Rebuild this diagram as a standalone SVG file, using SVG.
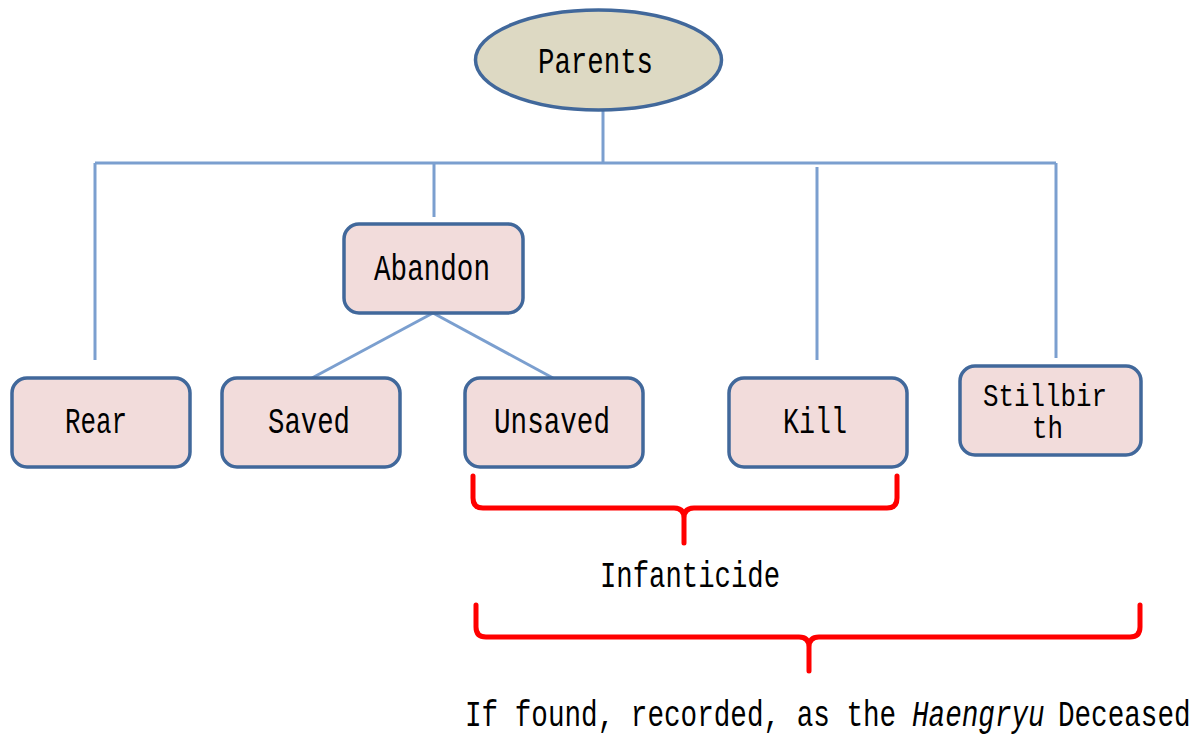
<svg xmlns="http://www.w3.org/2000/svg" width="1197" height="736" viewBox="0 0 1197 736">
<style>
.box{fill:#f2dcdb;stroke:#41689b;stroke-width:3.5}
.ell{fill:#ddd9c3;stroke:#41689b;stroke-width:3.5}
.con{fill:none;stroke:#7b9fcf;stroke-width:3}
.br{fill:none;stroke:#ff0000;stroke-width:5;stroke-linecap:round;stroke-linejoin:round}
text{font-family:"Liberation Mono","DejaVu Sans Mono",monospace;font-size:36px;fill:#000}
.sm{font-size:31px}
</style>
<rect width="1197" height="736" fill="#fff"/>
<g id="connectors">
<line class="con" x1="603" y1="110" x2="603" y2="163"/>
<line class="con" x1="95" y1="163" x2="1056" y2="163"/>
<line class="con" x1="95" y1="163" x2="95" y2="360"/>
<line class="con" x1="434" y1="163" x2="434" y2="217"/>
<line class="con" x1="817" y1="167" x2="817" y2="360"/>
<line class="con" x1="1056" y1="163" x2="1056" y2="358"/>
<line class="con" x1="433" y1="313" x2="312" y2="378"/>
<line class="con" x1="433" y1="313" x2="553" y2="378"/>
</g>
<g id="parents">
<ellipse class="ell" cx="598.5" cy="60" rx="123" ry="50"/>
<text x="538" y="73" textLength="115" lengthAdjust="spacingAndGlyphs">Parents</text>
</g>
<g id="abandon">
<rect class="box" x="344" y="224" width="179" height="89" rx="15"/>
<text x="374" y="280" textLength="116" lengthAdjust="spacingAndGlyphs">Abandon</text>
</g>
<g id="rear">
<rect class="box" x="12" y="378" width="178" height="89" rx="15"/>
<text x="65" y="433" textLength="62" lengthAdjust="spacingAndGlyphs">Rear</text>
</g>
<g id="saved">
<rect class="box" x="222" y="378" width="178" height="89" rx="15"/>
<text x="268" y="433" textLength="82" lengthAdjust="spacingAndGlyphs">Saved</text>
</g>
<g id="unsaved">
<rect class="box" x="465" y="378" width="178" height="89" rx="15"/>
<text x="494" y="433" textLength="116" lengthAdjust="spacingAndGlyphs">Unsaved</text>
</g>
<g id="kill">
<rect class="box" x="729" y="378" width="178" height="89" rx="15"/>
<text x="783" y="433" textLength="64" lengthAdjust="spacingAndGlyphs">Kill</text>
</g>
<g id="stillbirth">
<rect class="box" x="960" y="366" width="181" height="89" rx="15"/>
<text class="sm" x="983" y="406" textLength="124" lengthAdjust="spacingAndGlyphs">Stillbir</text>
<text class="sm" x="1032" y="438" textLength="31" lengthAdjust="spacingAndGlyphs">th</text>
</g>
<g id="infanticide">
<path class="br" d="M473 476 V498 Q473 508 483 508 H674 Q684 508 684 518 V543 M684 518 Q684 508 694 508 H887 Q897 508 897 498 V476"/>
<text x="600" y="587" textLength="180" lengthAdjust="spacingAndGlyphs">Infanticide</text>
</g>
<g id="haengryu">
<path class="br" d="M476 605 V627 Q476 637 486 637 H799 Q809 637 809 647 V671 M809 647 Q809 637 819 637 H1130 Q1140 637 1140 627 V605"/>
<g transform="translate(465 726) scale(0.768 1)">
<text x="0" y="0">If found, recorded, as the</text>
<text x="582" y="0" font-style="italic">Haengryu</text>
<text x="772" y="0">Deceased</text>
</g>
</g>
</svg>
